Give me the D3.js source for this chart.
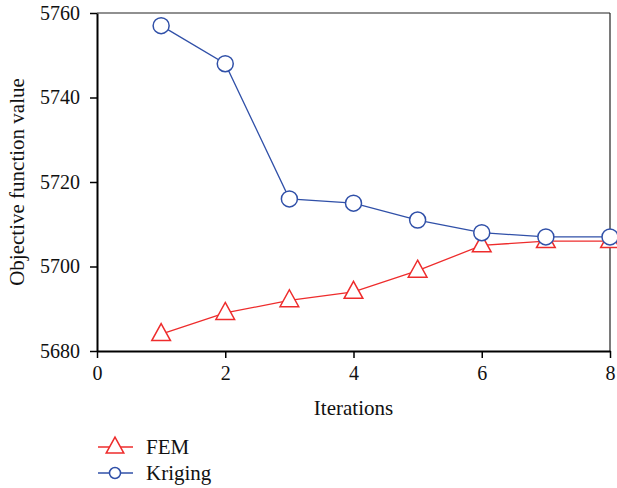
<!DOCTYPE html>
<html>
<head>
<meta charset="utf-8">
<script src="https://cdn.jsdelivr.net/npm/d3@7"></script>
<style>
  body { margin: 0; background: #fff; }
</style>
</head>
<body>
<script>
// data
const iterations = [1, 2, 3, 4, 5, 6, 7, 8]
const femValues = [5684, 5689, 5692, 5694, 5699, 5705, 5706, 5706]
const krigingValues = [5757, 5748, 5716, 5715, 5711, 5708, 5707, 5707]
const xTicks = [0, 2, 4, 6, 8]
const yTicks = [5680, 5700, 5720, 5740, 5760]

const w = 617, h = 488
const padL = 97, padR = 610, padT = 13, padB = 351
const red = "#ee2c2c", blue = "#3050a8"
const serif = "'Liberation Serif', 'Times New Roman', 'DejaVu Serif', serif"

const svg = d3.select("body").append("svg")
  .attr("width", w).attr("height", h)
  .style("font-family", serif)

const xScale = d3.scaleLinear().domain([0, 8]).range([padL, padR])
const yScale = d3.scaleLinear().domain([5680, 5760]).range([padB, padT])

// frame: top and right thin
svg.append("line").attr("x1", padL).attr("x2", padR).attr("y1", padT).attr("y2", padT)
   .attr("stroke", "#222").attr("stroke-width", 1.2)
svg.append("line").attr("x1", padR).attr("x2", padR).attr("y1", padT).attr("y2", padB)
   .attr("stroke", "#222").attr("stroke-width", 1.2)

const xAxis = svg.append("g")
  .attr("transform", "translate(0," + padB + ")")
  .call(d3.axisBottom(xScale).tickValues(xTicks).tickFormat(d3.format("d"))
    .tickSize(7).tickPadding(8).tickSizeOuter(0))
const yAxis = svg.append("g")
  .attr("transform", "translate(" + padL + ",0)")
  .call(d3.axisLeft(yScale).tickValues(yTicks).tickFormat(d3.format("d"))
    .tickSize(7).tickPadding(10).tickSizeOuter(0))

;[xAxis, yAxis].forEach(g => {
  g.attr("font-family", null).attr("font-size", null)
  g.select(".domain").attr("stroke", "#000").attr("stroke-width", 2)
  g.selectAll(".tick line").attr("stroke", "#000").attr("stroke-width", 1.5)
  g.selectAll(".tick text").style("font-size", "20px")
    .style("font-family", serif).attr("fill", "#111")
})

svg.append("text").attr("x", (padL + padR) / 2).attr("y", 415)
  .attr("text-anchor", "middle").style("font-size", "21px").style("font-family", serif)
  .attr("fill", "#111").text("Iterations")
svg.append("text")
  .attr("transform", "translate(24," + ((padT + padB) / 2) + ") rotate(-90)")
  .attr("text-anchor", "middle").style("font-size", "21px").style("font-family", serif)
  .attr("fill", "#111").text("Objective function value")

const triPath = s => `M0,${-s * 0.62} L${s * 0.55},${s * 0.38} L${-s * 0.55},${s * 0.38} Z`

const line = d3.line().x((d, i) => xScale(iterations[i])).y(d => yScale(d))

// FEM
svg.append("path").datum(femValues).attr("d", line)
  .attr("fill", "none").attr("stroke", red).attr("stroke-width", 1.3)
svg.selectAll(".fem").data(femValues).enter().append("path")
  .attr("class", "fem")
  .attr("transform", (d, i) => "translate(" + xScale(iterations[i]) + "," + yScale(d) + ")")
  .attr("d", triPath(17))
  .attr("fill", "#fff").attr("stroke", red).attr("stroke-width", 1.5)

// Kriging
svg.append("path").datum(krigingValues).attr("d", line)
  .attr("fill", "none").attr("stroke", blue).attr("stroke-width", 1.3)
svg.selectAll(".krig").data(krigingValues).enter().append("circle")
  .attr("class", "krig")
  .attr("cx", (d, i) => xScale(iterations[i])).attr("cy", d => yScale(d))
  .attr("r", 8)
  .attr("fill", "#fff").attr("stroke", blue).attr("stroke-width", 1.5)

// legend
const legend = [{name: "FEM", color: red, y: 447}, {name: "Kriging", color: blue, y: 473}]
legend.forEach(l => {
  svg.append("line").attr("x1", 98).attr("x2", 133).attr("y1", l.y).attr("y2", l.y)
    .attr("stroke", l.color).attr("stroke-width", 1.3)
  if (l.name === "FEM") {
    svg.append("path").attr("transform", "translate(115," + l.y + ")")
      .attr("d", triPath(16)).attr("fill", "#fff").attr("stroke", l.color).attr("stroke-width", 1.5)
  } else {
    svg.append("circle").attr("cx", 115).attr("cy", l.y).attr("r", 5.5)
      .attr("fill", "#fff").attr("stroke", l.color).attr("stroke-width", 1.5)
  }
  svg.append("text").attr("x", 146).attr("y", l.y + 7).style("font-size", "21px")
    .style("font-family", serif).attr("fill", "#111").text(l.name)
})
</script>
</body>
</html>
